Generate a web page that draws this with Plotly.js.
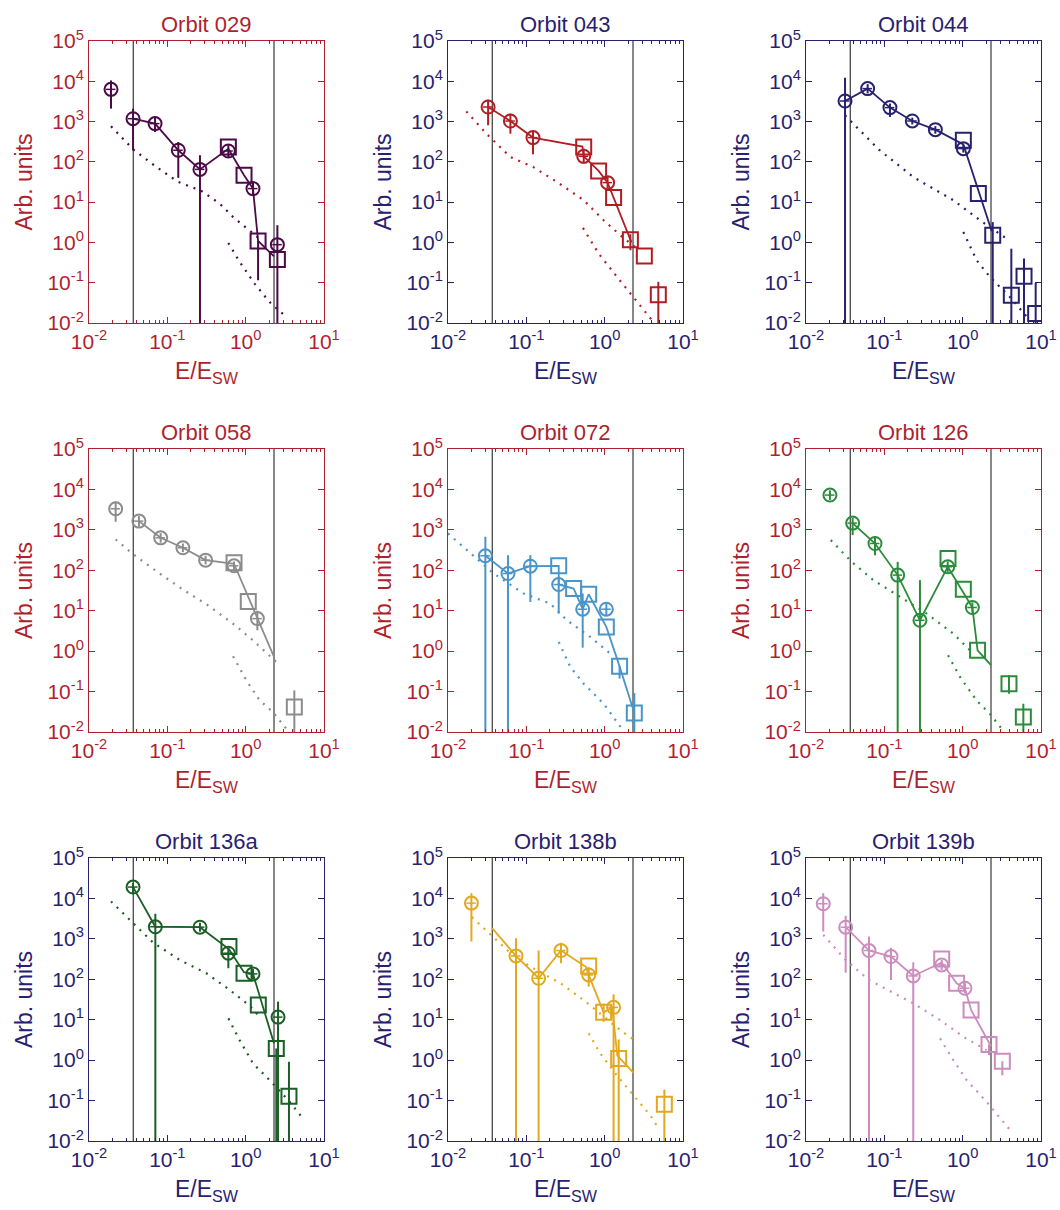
<!DOCTYPE html>
<html><head><meta charset="utf-8">
<script src="https://cdn.plot.ly/plotly-3.0.1.min.js"></script>
<style>html,body{margin:0;padding:0;background:#fff}#chart{width:1060px;height:1210px}</style>
</head><body><div id="chart"></div>
<script>
// ---------- tick labels ----------
const xTickVals = [0.01, 0.1, 1, 10];
const xTickText = ['10<sup>-2</sup>', '10<sup>-1</sup>', '10<sup>0</sup>', '10<sup>1</sup>'];
const yTickVals = [0.01, 0.1, 1, 10, 100, 1000, 10000, 100000];
const yTickText = ['10<sup>-2</sup>', '10<sup>-1</sup>', '10<sup>0</sup>', '10<sup>1</sup>', '10<sup>2</sup>', '10<sup>3</sup>', '10<sup>4</sup>', '10<sup>5</sup>'];
const vLines = [0.0367, 2.3];
const titles = ['Orbit 029', 'Orbit 043', 'Orbit 044', 'Orbit 058', 'Orbit 072', 'Orbit 126', 'Orbit 136a', 'Orbit 138b', 'Orbit 139b'];

// ---------- Orbit 029 ----------
const p1_cX = [0.0191, 0.0365, 0.0697, 0.138, 0.261, 0.601, 1.24, 2.54];
const p1_cY = [6300, 1180, 890, 194, 65, 186, 21.7, 0.88];
const p1_cLo = [2100, 194, 550, 40, 1e-4, 130, 15, 1e-4];
const p1_cHi = [10500, 2100, 1290, 310, 146, 260, 30, 2.68];
const p1_sX = [0.601, 0.953, 1.44, 2.54];
const p1_sY = [234, 46.5, 1.09, 0.375];
const p1_sLo = [234, 46.5, 0.115, 0.375];
const p1_sHi = [234, 46.5, 1.09, 0.375];
const p1_lX = [0.0365, 0.0697, 0.138, 0.261, 0.601, 0.953, 1.24, 1.44, 2.3];
const p1_lY = [1180, 890, 194, 65, 210, 46.5, 21.7, 1.09, 0.45];
const p1_aX = [0.0191, 0.0365, 0.0725, 0.138, 0.272, 0.466, 0.689, 1.125, 1.44];
const p1_aY = [765, 205, 74.6, 31.7, 19, 9.2, 4.3, 2.0, 1.32];
const p1_bX = [0.601, 0.837, 1.30, 2.02, 3.3];
const p1_bY = [0.97, 0.33, 0.095, 0.033, 0.0142];

// ---------- Orbit 043 ----------
const p2_cX = [0.0325, 0.0626, 0.1216, 0.540, 1.09];
const p2_cY = [2300, 1030, 400, 137, 30.5];
const p2_cLo = [810, 500, 154, 91, 22];
const p2_cHi = [3500, 1580, 550, 213, 42];
const p2_sX = [0.54, 0.837, 1.30, 2.13, 3.21, 4.84];
const p2_sY = [234, 59.4, 13, 1.17, 0.46, 0.050];
const p2_sLo = [234, 59.4, 13, 0.64, 0.46, 1e-4];
const p2_sHi = [234, 59.4, 13, 1.6, 0.46, 0.105];
const p2_lX = [0.0325, 0.0626, 0.1216, 0.52, 0.54, 0.837, 1.09, 1.30, 2.2];
const p2_lY = [2300, 1030, 400, 240, 137, 59.4, 30.5, 13, 1.0];
const p2_aX = [0.01714, 0.0309, 0.0626, 0.1216, 0.246, 0.54, 0.97, 1.585, 2.59];
const p2_aY = [1790, 500, 132, 75, 31.7, 11.2, 3.55, 1.51, 0.70];
const p2_bX = [0.528, 0.837, 1.44, 2.34, 4.02];
const p2_bY = [2.29, 0.53, 0.139, 0.044, 0.0117];

// ---------- Orbit 044 ----------
const p3_cX = [0.0315, 0.0612, 0.118, 0.2275, 0.448, 1.02];
const p3_cY = [3240, 6580, 2220, 1035, 630, 213];
const p3_cLo = [1e-4, 5000, 1300, 850, 500, 170];
const p3_cHi = [12300, 8500, 2800, 1250, 770, 260];
const p3_sX = [1.02, 1.585, 2.42, 4.18, 6.07, 8.55];
const p3_sY = [343, 16.3, 1.51, 0.049, 0.145, 0.0171];
const p3_sLo = [343, 16.3, 1e-4, 1e-4, 1e-4, 1e-4];
const p3_sHi = [343, 16.3, 3.2, 0.70, 0.40, 0.099];
const p3_lX = [0.0315, 0.0612, 0.118, 0.2275, 0.448, 1.02, 2.35];
const p3_lY = [3240, 6580, 2220, 1035, 630, 270, 1.9];
const p3_aX = [0.0315, 0.0383, 0.0855, 0.234, 0.76, 1.66, 3.65];
const p3_aY = [1430, 980, 200, 42, 11.2, 3.55, 1.24];
const p3_bX = [1.02, 1.51, 2.23, 4.02, 6.89];
const p3_bY = [1.82, 0.36, 0.139, 0.044, 0.0129];

// ---------- Orbit 058 ----------
const p4_cX = [0.0219, 0.0434, 0.0822, 0.158, 0.308, 0.71, 1.41];
const p4_cY = [3320, 1645, 635, 360, 178, 129, 6.38];
const p4_cLo = [1585, 1200, 480, 280, 140, 100, 3.28];
const p4_cHi = [4960, 2200, 830, 460, 230, 165, 10];
const p4_sX = [0.71, 1.08, 4.18];
const p4_sY = [153, 16.8, 0.0414];
const p4_sLo = [153, 16.8, 1e-4];
const p4_sHi = [153, 16.8, 0.107];
const p4_lX = [0.0434, 0.0822, 0.158, 0.308, 0.71, 1.41, 2.3];
const p4_lY = [1645, 635, 360, 178, 145, 6.38, 0.72];
const p4_aX = [0.0219, 0.0365, 0.0798, 0.158, 0.315, 0.69, 1.24, 2.59];
const p4_aY = [578, 251, 83, 33.4, 14.5, 4.8, 1.85, 0.49];
const p4_bX = [0.69, 1.02, 1.51, 2.23, 3.3];
const p4_bY = [0.745, 0.19, 0.0605, 0.031, 0.012];

// ---------- Orbit 072 ----------
const p5_cX = [0.030, 0.0583, 0.1125, 0.259, 0.524, 1.05];
const p5_cY = [228, 83, 126, 44.4, 10.9, 10.9];
const p5_cLo = [1e-4, 1e-4, 16.5, 8.5, 1.22, 7.5];
const p5_cHi = [673, 237, 237, 70, 26.6, 15];
const p5_sX = [0.259, 0.402, 0.625, 1.05, 1.55, 2.39];
const p5_sY = [129, 35.3, 25.6, 3.97, 0.42, 0.0294];
const p5_sLo = [129, 35.3, 25.6, 3.97, 0.21, 1e-4];
const p5_sHi = [129, 35.3, 25.6, 3.97, 0.42, 0.092];
const p5_lX = [0.030, 0.0583, 0.1125, 0.259, 0.259, 0.402, 0.524, 0.625, 1.05, 1.55, 2.39];
const p5_lY = [228, 83, 126, 129, 44.4, 35.3, 10.9, 25.6, 3.97, 0.42, 0.0294];
const p5_aX = [0.01, 0.0175, 0.0383, 0.0925, 0.202, 0.33, 0.656, 1.18];
const p5_aY = [815, 315, 83, 26.6, 15, 5.8, 2.24, 0.87];
const p5_bX = [0.259, 0.365, 0.54, 0.97, 1.66];
const p5_bY = [1.69, 0.405, 0.157, 0.05, 0.012];

// ---------- Orbit 126 ----------
const p6_cX = [0.0202, 0.0394, 0.076, 0.148, 0.285, 0.644, 1.33];
const p6_cY = [7250, 1470, 460, 76, 5.8, 122, 12];
const p6_cLo = [5500, 740, 237, 1e-4, 1e-4, 90, 9];
const p6_cHi = [9500, 2000, 700, 162, 57, 165, 16];
const p6_sX = [0.65, 1.02, 1.55, 3.9, 5.95];
const p6_sY = [195, 34, 1.05, 0.157, 0.0234];
const p6_sLo = [195, 34, 1.05, 0.0885, 0.008];
const p6_sHi = [195, 34, 1.05, 0.252, 0.050];
const p6_lX = [0.0394, 0.076, 0.148, 0.285, 0.644, 1.33, 1.55, 2.3];
const p6_lY = [1470, 460, 76, 5.8, 122, 12, 1.05, 0.45];
const p6_aX = [0.0207, 0.0383, 0.0725, 0.158, 0.347, 0.76, 1.24];
const p6_aY = [557, 162, 57, 22, 8.5, 2.7, 1.05];
const p6_bX = [0.65, 0.925, 1.51, 2.23, 3.15];
const p6_bY = [0.79, 0.23, 0.06, 0.028, 0.012];

// ---------- Orbit 136a ----------
const p7_cX = [0.0365, 0.0703, 0.261, 0.601, 1.24, 2.59];
const p7_cY = [19100, 1990, 1945, 442, 136, 11.6];
const p7_cLo = [13000, 1e-4, 1500, 188, 100, 1e-4];
const p7_cHi = [24000, 4170, 2500, 600, 180, 28];
const p7_sX = [0.612, 0.953, 1.45, 2.46, 3.57];
const p7_sY = [646, 141, 23.1, 1.95, 0.128];
const p7_sLo = [646, 141, 23.1, 1e-4, 1e-4];
const p7_sHi = [646, 141, 23.1, 1.95, 0.91];
const p7_lX = [0.0365, 0.0703, 0.261, 0.61, 0.95, 1.24, 2.3];
const p7_lY = [19100, 1990, 1945, 560, 150, 136, 2.6];
const p7_aX = [0.0191, 0.0365, 0.0656, 0.1435, 0.315, 0.625, 1.125, 1.5];
const p7_aY = [8430, 2440, 811, 301, 141, 54.5, 22, 12];
const p7_bX = [0.601, 0.837, 1.24, 2.02, 3.65, 5.4];
const p7_bY = [10.8, 3.13, 0.83, 0.32, 0.093, 0.0358];

// ---------- Orbit 138b ----------
const p8_cX = [0.0199, 0.0738, 0.1435, 0.277, 0.625, 1.30];
const p8_cY = [7660, 379, 106, 514, 128, 20.2];
const p8_cLo = [860, 1e-4, 1e-4, 250, 66, 1e-4];
const p8_cHi = [13500, 1040, 514, 800, 200, 42.5];
const p8_sX = [0.625, 0.97, 1.51, 5.78];
const p8_sY = [214, 15.2, 1.1, 0.081];
const p8_sLo = [214, 8.9, 1e-4, 1e-4];
const p8_sHi = [214, 25, 3.25, 0.187];
const p8_lX = [0.0365, 0.0738, 0.1435, 0.277, 0.58, 0.625, 0.97, 1.25, 1.45, 2.34];
const p8_lY = [1840, 379, 106, 514, 200, 128, 15.2, 20.2, 1.3, 0.485];
const p8_aX = [0.0202, 0.0365, 0.0626, 0.1125, 0.272, 0.54, 0.97, 1.585, 2.34];
const p8_aY = [3440, 1143, 442, 206, 80, 30.7, 11.9, 5.5, 3.25];
const p8_bX = [0.625, 0.88, 1.48, 2.34, 3.83, 4.89];
const p8_bY = [4.6, 1.46, 0.386, 0.136, 0.043, 0.0202];

// ---------- Orbit 139b ----------
const p9_cX = [0.0166, 0.0321, 0.0637, 0.1216, 0.234, 0.54, 1.07];
const p9_cY = [7380, 1945, 514, 365, 121, 226, 60];
const p9_cLo = [1520, 146, 1e-4, 96, 1e-4, 170, 45];
const p9_cHi = [13500, 3720, 1140, 600, 264, 300, 80];
const p9_sX = [0.54, 0.837, 1.28, 2.17, 3.21];
const p9_sY = [319, 80, 17.4, 2.45, 0.94];
const p9_sLo = [319, 80, 17.4, 1.33, 0.42];
const p9_sHi = [319, 80, 17.4, 2.45, 0.94];
const p9_lX = [0.0321, 0.0637, 0.1216, 0.234, 0.54, 0.837, 1.07, 1.28, 2.3];
const p9_lY = [1945, 514, 365, 121, 260, 80, 60, 17.4, 2.2];
const p9_aX = [0.0166, 0.0321, 0.0637, 0.1303, 0.234, 0.514, 1.02, 2.02];
const p9_aY = [1256, 301, 96, 45, 25.4, 9.8, 3.8, 1.77];
const p9_bX = [0.514, 0.76, 1.125, 2.02, 4.23];
const p9_bY = [3.44, 1.0, 0.32, 0.093, 0.0167];

// ---------- styling ----------
const RED = '#B01F2E', NAVY = '#28216F';
const FONT = 'Liberation Sans, Arial, Helvetica, sans-serif';
const axisColors = [RED, NAVY, NAVY, RED, RED, RED, NAVY, NAVY, NAVY];
const seriesColors = ['#4B0A47', '#B01E24', '#28216F', '#8C8C8C', '#4A94C8', '#2A8C3A', '#1B5E26', '#E2A81E', '#CC8CBE'];
const colsPx = [[89, 324], [448, 683], [806, 1041]];
const rowsPx = [[41, 323], [449, 732], [858, 1141]];
const W = 1060, H = 1210;

const panels = [
  [p1_cX, p1_cY, p1_cLo, p1_cHi, p1_sX, p1_sY, p1_sLo, p1_sHi, p1_lX, p1_lY, p1_aX, p1_aY, p1_bX, p1_bY],
  [p2_cX, p2_cY, p2_cLo, p2_cHi, p2_sX, p2_sY, p2_sLo, p2_sHi, p2_lX, p2_lY, p2_aX, p2_aY, p2_bX, p2_bY],
  [p3_cX, p3_cY, p3_cLo, p3_cHi, p3_sX, p3_sY, p3_sLo, p3_sHi, p3_lX, p3_lY, p3_aX, p3_aY, p3_bX, p3_bY],
  [p4_cX, p4_cY, p4_cLo, p4_cHi, p4_sX, p4_sY, p4_sLo, p4_sHi, p4_lX, p4_lY, p4_aX, p4_aY, p4_bX, p4_bY],
  [p5_cX, p5_cY, p5_cLo, p5_cHi, p5_sX, p5_sY, p5_sLo, p5_sHi, p5_lX, p5_lY, p5_aX, p5_aY, p5_bX, p5_bY],
  [p6_cX, p6_cY, p6_cLo, p6_cHi, p6_sX, p6_sY, p6_sLo, p6_sHi, p6_lX, p6_lY, p6_aX, p6_aY, p6_bX, p6_bY],
  [p7_cX, p7_cY, p7_cLo, p7_cHi, p7_sX, p7_sY, p7_sLo, p7_sHi, p7_lX, p7_lY, p7_aX, p7_aY, p7_bX, p7_bY],
  [p8_cX, p8_cY, p8_cLo, p8_cHi, p8_sX, p8_sY, p8_sLo, p8_sHi, p8_lX, p8_lY, p8_aX, p8_aY, p8_bX, p8_bY],
  [p9_cX, p9_cY, p9_cLo, p9_cHi, p9_sX, p9_sY, p9_sLo, p9_sHi, p9_lX, p9_lY, p9_aX, p9_aY, p9_bX, p9_bY]
];

const minorVals = [];
[-2, -1, 0].forEach(d => { for (let k = 2; k <= 9; k++) minorVals.push(k * Math.pow(10, d)); });

const traces = [];
const layout = {
  width: W, height: H, margin: {l: 0, r: 0, t: 0, b: 0},
  paper_bgcolor: '#fff', plot_bgcolor: '#fff', showlegend: false,
  font: {family: FONT}, annotations: []
};

panels.forEach((p, i) => {
  const [cX, cY, cLo, cHi, sX, sY, sLo, sHi, lX, lY, aX, aY, bX, bY] = p;
  const xa = i === 0 ? 'x' : 'x' + (i + 1);
  const ya = i === 0 ? 'y' : 'y' + (i + 1);
  const col = seriesColors[i], ac = axisColors[i];
  const c = i % 3, r = Math.floor(i / 3);
  const dx = [colsPx[c][0] / W, colsPx[c][1] / W];
  const dy = [1 - rowsPx[r][1] / H, 1 - rowsPx[r][0] / H];

  vLines.forEach(v => traces.push({x: [v, v], y: [0.01, 100000], xaxis: xa, yaxis: ya, mode: 'lines',
    line: {color: '#111111', width: 1}, hoverinfo: 'skip'}));
  traces.push({x: aX, y: aY, xaxis: xa, yaxis: ya, mode: 'lines', line: {color: col, width: 2.2, dash: '2px,6px'}});
  traces.push({x: bX, y: bY, xaxis: xa, yaxis: ya, mode: 'lines', line: {color: col, width: 2.2, dash: '2px,6px'}});
  traces.push({x: lX, y: lY, xaxis: xa, yaxis: ya, mode: 'lines', line: {color: col, width: 1.8}});
  traces.push({x: sX, y: sY, xaxis: xa, yaxis: ya, mode: 'markers',
    marker: {symbol: 'square-open', size: 15, color: col, line: {width: 2, color: col}},
    error_y: {type: 'data', symmetric: false, array: sY.map((v, k) => sHi[k] - v), arrayminus: sY.map((v, k) => v - sLo[k]),
      thickness: 2, width: 0, color: col}});
  traces.push({x: cX, y: cY, xaxis: xa, yaxis: ya, mode: 'markers',
    marker: {symbol: 'circle-open', size: 13, color: col, line: {width: 2, color: col}},
    error_y: {type: 'data', symmetric: false, array: cY.map((v, k) => cHi[k] - v), arrayminus: cY.map((v, k) => v - cLo[k]),
      thickness: 2, width: 0, color: col},
    error_x: {type: 'percent', value: 14, thickness: 1.5, width: 0, color: col}});

  const common = {
    type: 'log', showline: true, linecolor: ac, linewidth: 1, mirror: 'ticks',
    ticks: 'inside', ticklen: 6, tickwidth: 1, tickcolor: ac,
    tickfont: {family: FONT, size: 21, color: ac}, showgrid: false, zeroline: false, fixedrange: true
  };
  layout['xaxis' + (i === 0 ? '' : i + 1)] = Object.assign({}, common, {
    domain: dx, anchor: ya, range: [-2, 1], tickmode: 'array', tickvals: xTickVals, ticktext: xTickText,
    minor: {tickmode: 'array', tickvals: minorVals, ticks: 'inside', ticklen: 3, tickcolor: ac, showgrid: false},
    title: {text: 'E/E<sub>SW</sub>', font: {family: FONT, size: 23, color: ac}, standoff: 10}
  });
  layout['yaxis' + (i === 0 ? '' : i + 1)] = Object.assign({}, common, {
    domain: dy, anchor: xa, range: [-2, 5], tickmode: 'array', tickvals: yTickVals, ticktext: yTickText,
    title: {text: 'Arb. units', font: {family: FONT, size: 23, color: ac}, standoff: 8}
  });
  layout.annotations.push({
    text: titles[i], xref: 'paper', yref: 'paper', x: (dx[0] + dx[1]) / 2, y: dy[1] + 2 / H,
    xanchor: 'center', yanchor: 'bottom', showarrow: false, font: {family: FONT, size: 22, color: ac}
  });
});

Plotly.newPlot('chart', traces, layout, {displayModeBar: false, staticPlot: true});
</script></body></html>
